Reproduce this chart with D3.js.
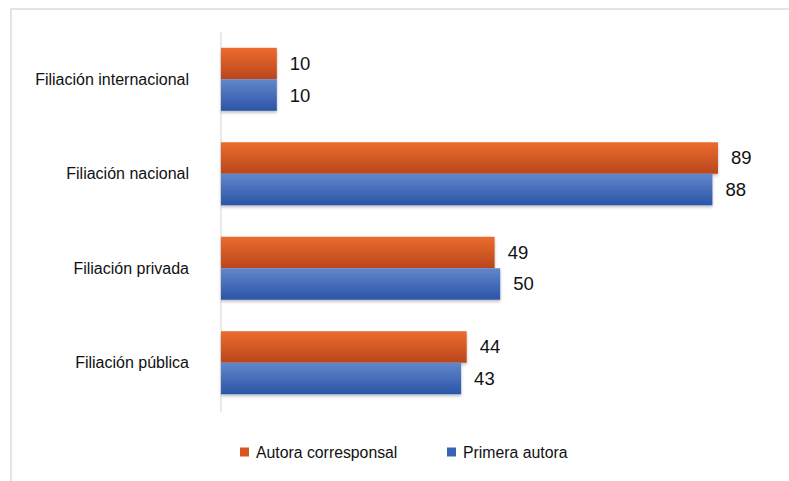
<!DOCTYPE html>
<html>
<head>
<meta charset="utf-8">
<script src="https://cdn.jsdelivr.net/npm/d3@7"></script>
<style>
  body { margin: 0; background: #fff; }
  svg { display: block; font-family: "Liberation Sans", Arial, sans-serif; }
</style>
</head>
<body>
<div id="chart"></div>
<script>
var categories = ["Filiación internacional", "Filiación nacional", "Filiación privada", "Filiación pública"];
var seriesNames = ["Autora corresponsal", "Primera autora"];
var autoraCorresponsal = [10, 89, 49, 44];
var primeraAutora = [10, 88, 50, 43];

var W = 789, H = 481;
var x0 = 221, plotTop = 32, plotBottom = 410;

var svg = d3.select("#chart")
    .append("svg")
    .attr("width", W)
    .attr("height", H);

// gradients for the bars
var defs = svg.append("defs");
function grad(id, top, bottom) {
    var g = defs.append("linearGradient")
        .attr("id", id)
        .attr("x1", 0).attr("y1", 0).attr("x2", 0).attr("y2", 1);
    g.append("stop").attr("offset", "0%").attr("stop-color", top);
    g.append("stop").attr("offset", "100%").attr("stop-color", bottom);
}
grad("gOrange", "#ec6c2e", "#b9461d");
grad("gBlue", "#6287cb", "#2b54a7");
var shadow = defs.append("filter").attr("id", "shadow")
    .attr("x", "-5%").attr("y", "-10%").attr("width", "110%").attr("height", "140%");
shadow.append("feDropShadow")
    .attr("dx", 0).attr("dy", 2).attr("stdDeviation", 1.5)
    .attr("flood-color", "#000").attr("flood-opacity", 0.25);

// chart frame (cut by window at right and bottom)
svg.append("rect")
    .attr("x", 11).attr("y", 9)
    .attr("width", 820).attr("height", 520)
    .attr("fill", "none")
    .attr("stroke", "#e4e4e8")
    .attr("stroke-width", 2);

var xScale = d3.scaleLinear()
    .domain([0, 89])
    .range([x0, 718]);

var yBand = d3.scaleBand()
    .domain(categories)
    .range([plotTop, plotBottom])
    .paddingInner(0.333)
    .paddingOuter(0.167);

var ySub = d3.scaleBand()
    .domain(seriesNames)
    .range([0, yBand.bandwidth()]);

var fills = { "Autora corresponsal": "url(#gOrange)", "Primera autora": "url(#gBlue)" };
var legendFills = { "Autora corresponsal": "#d8561f", "Primera autora": "#3a64b8" };

var rows = [];
categories.forEach(function (c, i) {
    rows.push({ cat: c, series: seriesNames[0], value: autoraCorresponsal[i] });
    rows.push({ cat: c, series: seriesNames[1], value: primeraAutora[i] });
});

// vertical axis line
svg.append("line")
    .attr("x1", x0).attr("x2", x0)
    .attr("y1", plotTop).attr("y2", plotBottom + 2)
    .attr("stroke", "#e2e2e2")
    .attr("stroke-width", 1.5);

var bars = svg.selectAll(".bar")
    .data(rows)
    .enter()
    .append("g");

bars.append("rect")
    .attr("x", xScale(0))
    .attr("y", function (d) { return yBand(d.cat) + ySub(d.series); })
    .attr("width", function (d) { return xScale(d.value) - xScale(0); })
    .attr("height", ySub.bandwidth())
    .attr("fill", function (d) { return fills[d.series]; })
    .attr("filter", "url(#shadow)");

bars.append("text")
    .text(function (d) { return d.value; })
    .attr("x", function (d) { return xScale(d.value) + 13; })
    .attr("y", function (d) { return yBand(d.cat) + ySub(d.series) + ySub.bandwidth() / 2; })
    .attr("dy", "0.35em")
    .attr("font-size", 18.5)
    .attr("fill", "#111");

// category labels
svg.selectAll(".cat")
    .data(categories)
    .enter()
    .append("text")
    .text(function (d) { return d; })
    .attr("x", 189)
    .attr("y", function (d) { return yBand(d) + yBand.bandwidth() / 2; })
    .attr("dy", "0.35em")
    .attr("text-anchor", "end")
    .attr("font-size", 16)
    .attr("fill", "#111");

// legend
var legendX = [240, 447];
var legend = svg.selectAll(".legend")
    .data(seriesNames)
    .enter()
    .append("g")
    .attr("transform", function (d, i) { return "translate(" + legendX[i] + ",452)"; });

legend.append("rect")
    .attr("x", 0).attr("y", -4.5)
    .attr("width", 9).attr("height", 9)
    .attr("fill", function (d) { return legendFills[d]; });

legend.append("text")
    .text(function (d) { return d; })
    .attr("x", 16)
    .attr("dy", "0.35em")
    .attr("font-size", 15.8)
    .attr("fill", "#111");
</script>
</body>
</html>
